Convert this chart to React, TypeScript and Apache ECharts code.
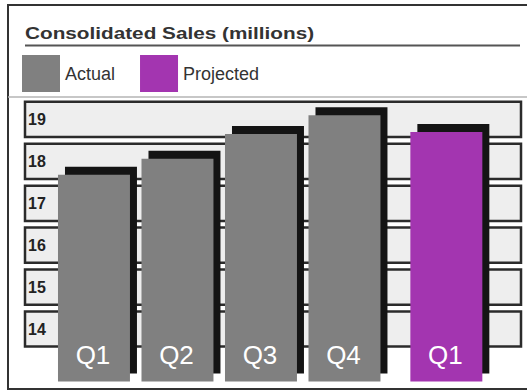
import React, { useEffect, useRef } from 'react';
import * as echarts from 'echarts';

// ---- data ----
const bandValues = [14, 15, 16, 17, 18, 19];
const bandLabels = ['14', '15', '16', '17', '18', '19'];
const actualLabels = ['Q1', 'Q2', 'Q3', 'Q4'];
const actualPositions = [1, 2, 3, 4];
const actualValues = [17.68, 18.06, 18.65, 19.1];
const projectedLabels = ['Q1'];
const projectedPositions = [5.22];
const projectedValues = [18.7];

const Y_MIN = 12.75;
const Y_MAX = 19.5;
const X_MIN = 0.174;
const X_MAX = 6.114;
const BAND_HALF = 0.42;

const GRAY = '#808080';
const PURPLE = '#a335b0';

function makeBarRenderer(labels: string[]) {
  return (params: any, api: any) => {
    const x = api.value(0);
    const v = api.value(1);
    const top = api.coord([x, v]);
    const bot = api.coord([x, Y_MIN]);
    const w = api.size([1, 0])[0] * 0.862;
    const h = bot[1] - top[1];
    const color = api.visual('color');
    return {
      type: 'group',
      children: [
        { type: 'rect', shape: { x: top[0] - w / 2 + 7, y: top[1] - 8, width: w, height: h }, style: { fill: '#141414' } },
        { type: 'rect', shape: { x: top[0] - w / 2, y: top[1], width: w, height: h }, style: { fill: color } },
        {
          type: 'text',
          x: top[0] - 1,
          y: bot[1] - 26,
          style: {
            text: labels[params.dataIndex],
            fill: '#ffffff',
            font: '26px "Liberation Sans", Arial, sans-serif',
            align: 'center',
            verticalAlign: 'middle',
          },
        },
      ],
    };
  };
}

function renderBand(params: any, api: any) {
  const v = api.value(1);
  const cs = params.coordSys;
  const top = api.coord([X_MIN, v + BAND_HALF]);
  const bot = api.coord([X_MIN, v - BAND_HALF]);
  return {
    type: 'group',
    children: [
      {
        type: 'rect',
        shape: { x: cs.x, y: top[1], width: cs.width, height: bot[1] - top[1] },
        style: { fill: '#eeeeee', stroke: '#2b2b2b', lineWidth: 2.5 },
      },
      {
        type: 'text',
        x: cs.x + 3,
        y: (top[1] + bot[1]) / 2,
        style: {
          text: bandLabels[params.dataIndex],
          fill: '#222',
          font: 'bold 16px "Liberation Sans", Arial, sans-serif',
          align: 'left',
          verticalAlign: 'middle',
        },
      },
    ],
  };
}

export default function App() {
  const ref = useRef<HTMLDivElement>(null);
  useEffect(() => {
    if (!ref.current) return;
    const chart = echarts.init(ref.current, null, { renderer: 'svg' });
    chart.setOption({
      animation: false,
      backgroundColor: '#ffffff',
      legend: {
        left: 22,
        top: 55,
        padding: 0,
        icon: 'rect',
        itemWidth: 38,
        itemHeight: 37,
        itemGap: 25,
        data: ['Actual', 'Projected'],
        textStyle: { fontSize: 18, color: '#333', fontFamily: '"Liberation Sans", Arial, sans-serif' },
      },
      grid: { left: 25, right: 6, top: 98.5, bottom: 9.6 },
      xAxis: { type: 'value', min: X_MIN, max: X_MAX, show: false },
      yAxis: { type: 'value', min: Y_MIN, max: Y_MAX, show: false },
      graphic: [
        { type: 'rect', shape: { x: 8, y: 5, width: 530, height: 384 }, style: { fill: 'none', stroke: '#333', lineWidth: 2 } },
        {
          type: 'text',
          x: 25,
          y: 33,
          scaleX: 1.22,
          style: {
            text: 'Consolidated Sales (millions)',
            fill: '#333',
            font: 'bold 17px "Liberation Sans", Arial, sans-serif',
            verticalAlign: 'middle',
          },
        },
        { type: 'line', shape: { x1: 25, y1: 45.5, x2: 520, y2: 45.5 }, style: { stroke: '#555', lineWidth: 2 } },
        { type: 'line', shape: { x1: 8, y1: 97, x2: 527, y2: 97 }, style: { stroke: '#b5b5b5', lineWidth: 1.5 } },
      ],
      series: [
        {
          type: 'custom',
          name: 'bands',
          renderItem: renderBand,
          data: bandValues.map((v) => [X_MIN, v]),
          silent: true,
          z: 1,
        },
        {
          type: 'custom',
          name: 'Actual',
          color: GRAY,
          itemStyle: { color: GRAY },
          renderItem: makeBarRenderer(actualLabels),
          data: actualPositions.map((p, i) => [p, actualValues[i]]),
          z: 2,
        },
        {
          type: 'custom',
          name: 'Projected',
          color: PURPLE,
          itemStyle: { color: PURPLE },
          renderItem: makeBarRenderer(projectedLabels),
          data: projectedPositions.map((p, i) => [p, projectedValues[i]]),
          z: 2,
        },
      ],
    });
    return () => chart.dispose();
  }, []);
  return <div ref={ref} style={{ position: 'fixed', left: 0, top: 0, width: 527, height: 391 }} />;
}
